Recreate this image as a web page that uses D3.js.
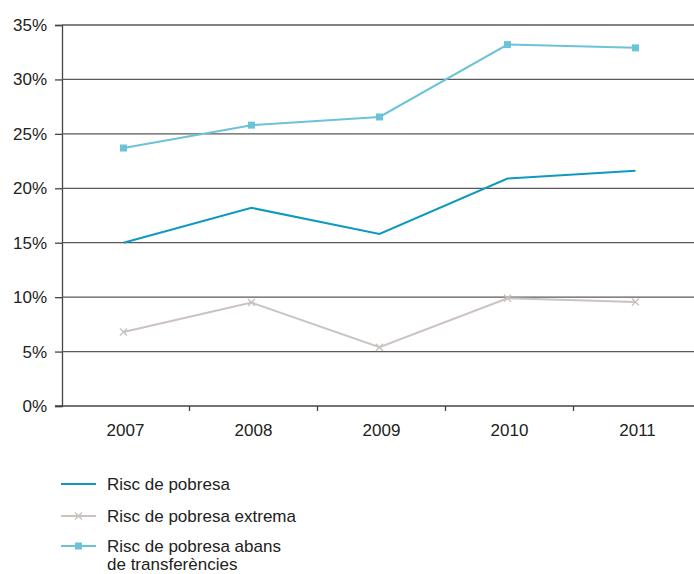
<!DOCTYPE html>
<html>
<head>
<meta charset="utf-8">
<script src="https://cdn.jsdelivr.net/npm/d3@7"></script>
<style>
  html, body { margin: 0; padding: 0; background: #fff; }
  svg { display: block; font-family: "Liberation Sans", Arial, Helvetica, sans-serif; }
</style>
</head>
<body>
<svg id="chart" width="694" height="574"></svg>
<script>
const years = ["2007", "2008", "2009", "2010", "2011"];
const riscPobresa = [15.0, 18.2, 15.8, 20.9, 21.6];
const riscExtrema = [6.8, 9.5, 5.4, 9.9, 9.55];
const riscAbans = [23.7, 25.8, 26.55, 33.2, 32.9];
const yTicks = [0, 5, 10, 15, 20, 25, 30, 35];
const legendLabels = [["Risc de pobresa"], ["Risc de pobresa extrema"], ["Risc de pobresa abans", "de transferències"]];

const colors = { pobresa: "#0e9abf", extrema: "#cbc3bf", abans: "#6cc3d8" };

const svg = d3.select("#chart");
const mLeft = 62, mTop = 25, mBottom = 406;

const x = d3.scaleBand().domain(years).range([60.5, 700.5]);
const y = d3.scaleLinear().domain([0, 35]).range([mBottom, mTop]);

// y axis
const yAxis = d3.axisLeft(y).tickValues(yTicks).tickFormat(d => d + "%").tickSize(7).tickPadding(8);
const gy = svg.append("g").attr("transform", `translate(${mLeft},0)`).call(yAxis);
gy.select(".domain").attr("stroke", "#444").attr("stroke-width", 1.3);
gy.selectAll(".tick line").attr("stroke", "#444").attr("stroke-width", 1.3);
gy.selectAll(".tick text").attr("fill", "#222").attr("font-size", 17);

// gridlines
svg.append("g").selectAll("line").data(yTicks.filter(d => d > 0)).join("line")
  .attr("x1", mLeft).attr("x2", 694)
  .attr("y1", d => y(d)).attr("y2", d => y(d))
  .attr("stroke", "#5a5a5a").attr("stroke-width", 1.3);

// x axis
const xAxis = d3.axisBottom(x).tickSize(0).tickPadding(18);
const gx = svg.append("g").attr("transform", `translate(1,${mBottom})`).call(xAxis);
gx.select(".domain").remove();
gx.selectAll(".tick text").attr("fill", "#222").attr("font-size", 17);
svg.append("line").attr("x1", mLeft - 7).attr("x2", 694).attr("y1", mBottom).attr("y2", mBottom)
  .attr("stroke", "#444").attr("stroke-width", 1.3);
svg.append("g").selectAll("line").data(years.slice(1)).join("line")
  .attr("x1", d => x(d) + 1).attr("x2", d => x(d) + 1)
  .attr("y1", mBottom).attr("y2", mBottom + 5)
  .attr("stroke", "#444").attr("stroke-width", 1.3);

const cx = d => x(d) + x.bandwidth() / 2 - 1;
const line = d3.line().x((d, i) => cx(years[i])).y(d => y(d));

// lines
svg.append("path").datum(riscExtrema).attr("d", line).attr("fill", "none")
  .attr("stroke", colors.extrema).attr("stroke-width", 2);
svg.append("path").datum(riscAbans).attr("d", line).attr("fill", "none")
  .attr("stroke", colors.abans).attr("stroke-width", 2);
svg.append("path").datum(riscPobresa).attr("d", line).attr("fill", "none")
  .attr("stroke", colors.pobresa).attr("stroke-width", 2);

function xMark(g, px, py) {
  const s = 3.5;
  g.append("path").attr("d", `M${px - s},${py - s}L${px + s},${py + s}M${px - s},${py + s}L${px + s},${py - s}`)
    .attr("stroke", colors.extrema).attr("stroke-width", 1.5).attr("fill", "none");
}
function sqMark(g, px, py) {
  g.append("rect").attr("x", px - 3.5).attr("y", py - 3.5).attr("width", 7).attr("height", 7)
    .attr("fill", colors.abans);
}
const mg = svg.append("g");
riscExtrema.forEach((v, i) => xMark(mg, cx(years[i]), y(v)));
riscAbans.forEach((v, i) => sqMark(mg, cx(years[i]), y(v)));

// legend
const legendY = [484, 516, 546];
const legendColors = [colors.pobresa, colors.extrema, colors.abans];
const lg = svg.append("g");
legendLabels.forEach((lab, i) => {
  const ly = legendY[i];
  lg.append("line").attr("x1", 61).attr("x2", 96).attr("y1", ly).attr("y2", ly)
    .attr("stroke", legendColors[i]).attr("stroke-width", 2);
  if (i === 1) xMark(lg, 78.5, ly);
  if (i === 2) sqMark(lg, 78.5, ly);
  lab.forEach((s, j) => lg.append("text").attr("x", 107).attr("y", ly + 6 + j * 18)
    .attr("font-size", 17).attr("fill", "#222").text(s));
});
</script>
</body>
</html>
